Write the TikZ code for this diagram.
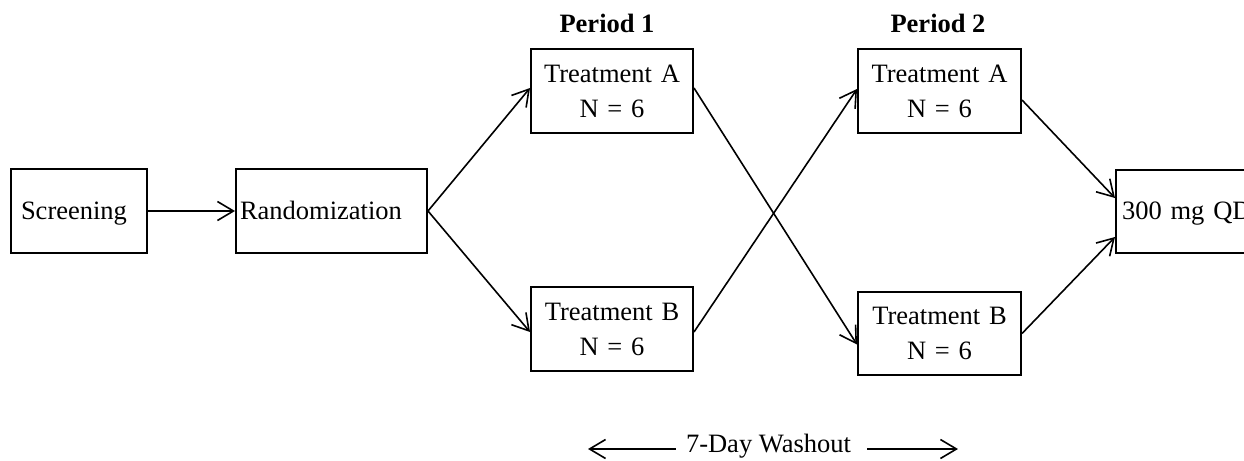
\documentclass[tikz,border=0pt]{standalone}
\usepackage{fontspec}
\setmainfont{Liberation Serif}
\usetikzlibrary{arrows.meta}
\begin{document}
\begin{tikzpicture}[x=0.5pt,y=-0.5pt,
  font=\fontsize{13.25}{17.5}\selectfont,
  box/.style={draw,line width=1pt,minimum height=42pt,inner ysep=0pt},
  lbox/.style={box,align=left,text height=11pt,text depth=3pt},
  tbox/.style={box,align=center,minimum width=81pt,text width=77pt,inner xsep=2pt},
  conn/.style={line width=0.8pt,-{Straight Barb[length=8pt,width=9.5pt,line width=0.8pt]}},
  plabel/.style={font=\fontsize{13.25}{17.5}\selectfont\bfseries}]
\useasboundingbox (0,0) rectangle (1244,461);
\clip (0,0) rectangle (1244,461);
\node[lbox,minimum width=68pt,text width=58pt,inner xsep=5pt] (scr) at (79,211) {Screening};
\node[lbox,minimum width=95.5pt,text width=91.5pt,inner xsep=2pt] (rand) at (331.5,211) {Randomization};
\node[tbox] (a1) at (612,91) {Treatment A\\N = 6};
\node[tbox] (b1) at (612,329) {Treatment B\\N = 6};
\node[tbox,minimum width=81.5pt] (a2) at (939.5,91) {Treatment A\\N = 6};
\node[tbox,minimum width=81.5pt,minimum height=41.5pt] (b2) at (939.5,333.5) {Treatment B\\N = 6};
\node[lbox,anchor=west,minimum width=100pt,text width=94pt,inner xsep=3pt,minimum height=41.5pt] (qd) at (1115,211.5) {300 mg QD};
\node[plabel] (p1) at (607,23) {Period 1};
\node[plabel] (p2) at (938,23) {Period 2};
\node[inner sep=0pt] (wash) at (768.5,446) {7-Day Washout};
\coordinate (wl) at (588,449);
\coordinate (wr) at (958,449);
\draw[conn] (scr.east) -- (rand.west);
\draw[conn] (rand.east) -- ([yshift=1.5pt]a1.west);
\draw[conn] (rand.east) -- ([yshift=-1.5pt]b1.west);
\draw[conn] ([yshift=1.5pt]a1.east) -- ([yshift=-5.5pt]b2.west);
\draw[conn] ([yshift=-1.5pt]b1.east) -- ([yshift=1pt]a2.west);
\draw[conn] ([yshift=-4.5pt]a2.east) -- ([yshift=6.75pt]qd.west);
\draw[conn] (b2.east) -- ([yshift=-12.75pt]qd.west);
\draw[conn] ([xshift=-5pt,yshift=-1.5pt]wash.west) -- (wl);
\draw[conn] ([xshift=8pt,yshift=-1.5pt]wash.east) -- (wr);
\end{tikzpicture}
\end{document}
